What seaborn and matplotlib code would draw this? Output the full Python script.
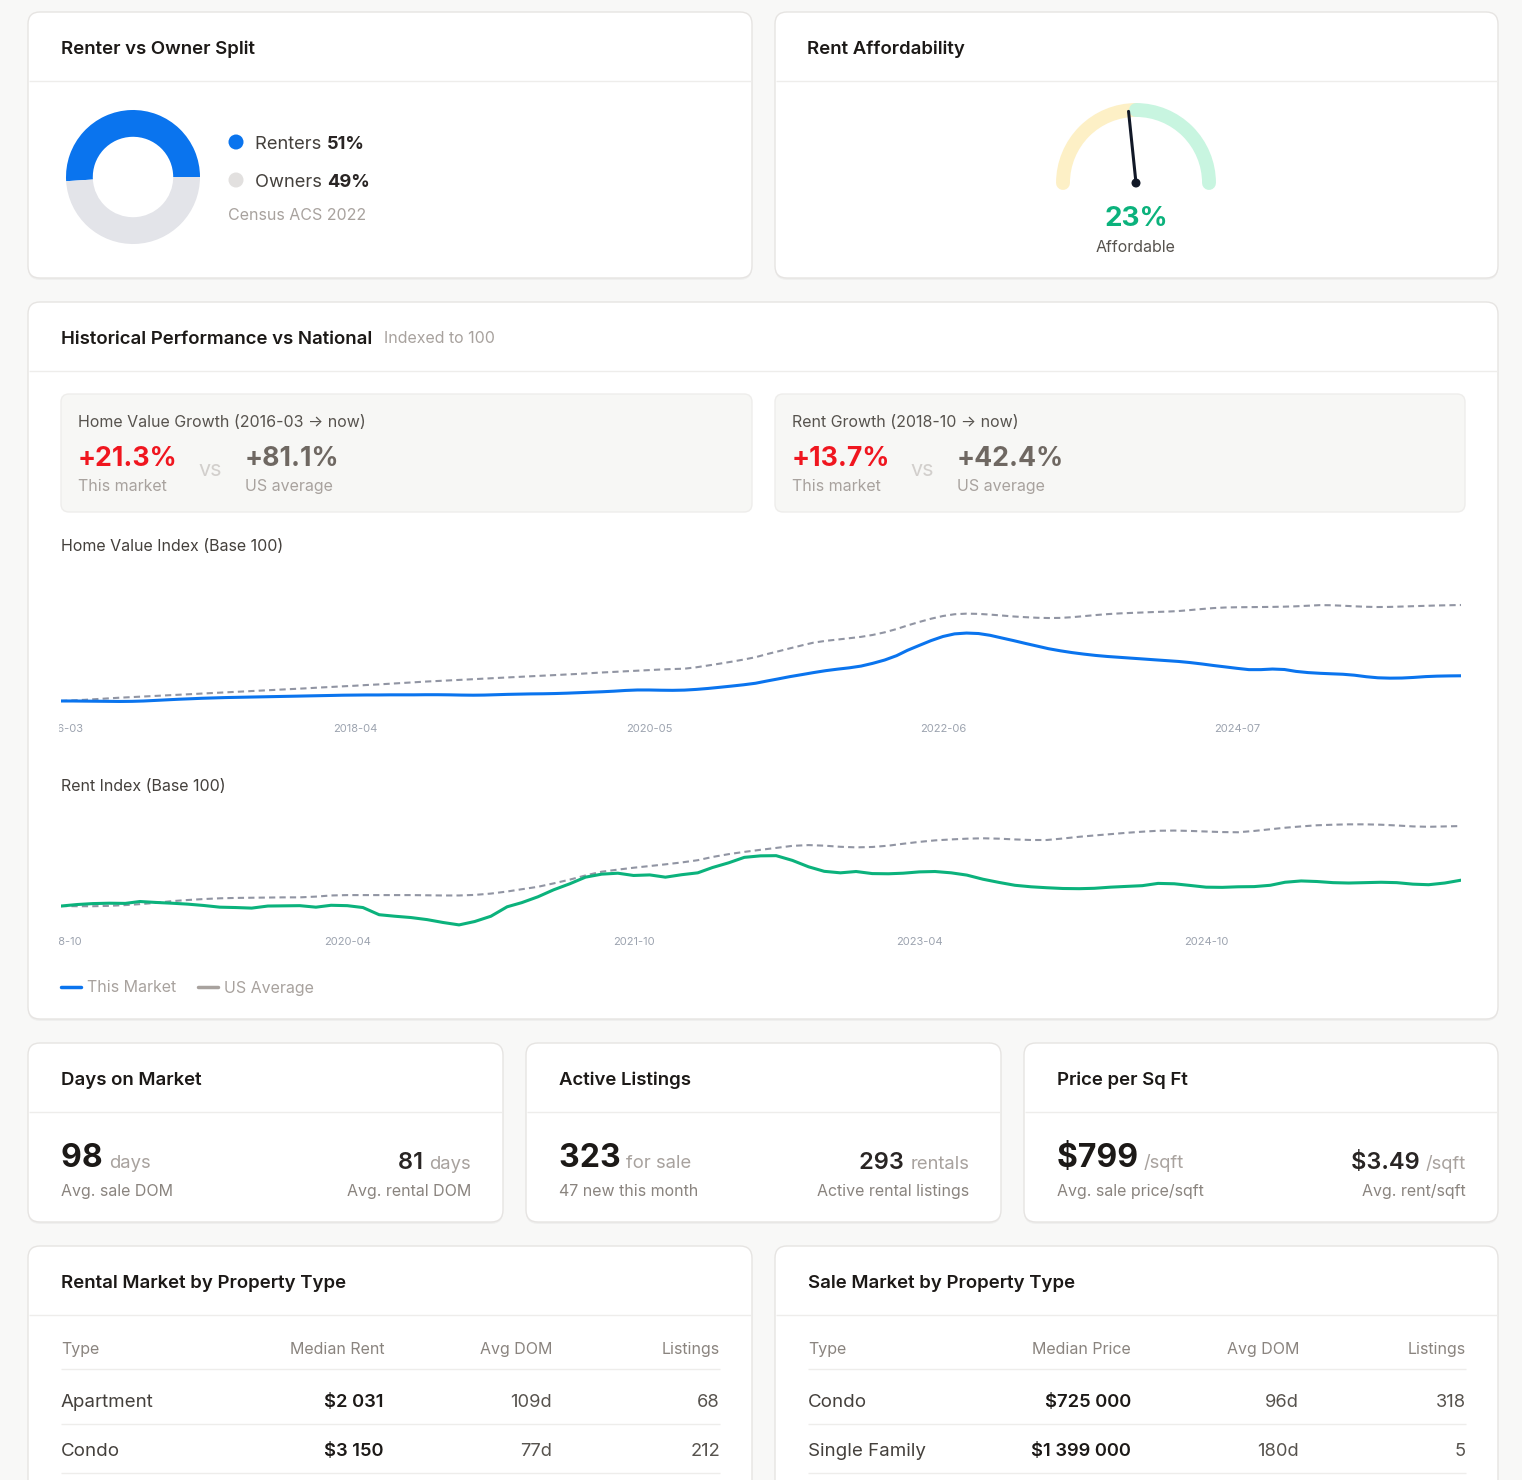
import numpy as np
import pandas as pd
import matplotlib
matplotlib.use("Agg")
import matplotlib.pyplot as plt
from matplotlib.patches import FancyBboxPatch, Arc, Circle
from matplotlib.lines import Line2D
from matplotlib.transforms import Bbox, TransformedBbox
import seaborn as sns

# ---- data ----
tenure_labels = ["Renters", "Owners"]
tenure_share = [51, 49]
tenure_source = "Census ACS 2022"

afford_pct = "23%"
afford_label = "Affordable"
afford_needle = 0.467  # needle position along the gauge, 0 = left end, 1 = right end

home_start = "2016-03"
home_ticks = ["2016-03", "2018-04", "2020-05", "2022-06", "2024-07"]
home_this = [
    100.0, 100.0, 99.9, 99.8, 99.7, 99.6, 99.7, 100.0, 100.5, 101.0,
    101.5, 101.9, 102.3, 102.6, 102.9, 103.1, 103.3, 103.5, 103.7, 103.9,
    104.1, 104.3, 104.5, 104.7, 104.9, 105.0, 105.1, 105.1, 105.2, 105.2,
    105.2, 105.3, 105.3, 105.2, 105.0, 104.9, 105.0, 105.3, 105.6, 105.8,
    106.0, 106.1, 106.3, 106.6, 107.0, 107.4, 107.8, 108.3, 108.9, 109.3,
    109.3, 109.1, 109.0, 109.2, 109.8, 110.6, 111.6, 112.6, 113.7, 115.0,
    116.8, 118.7, 120.6, 122.3, 124.0, 125.6, 126.9, 128.0, 129.5, 131.8,
    134.6, 138.3, 142.8, 147.0, 151.0, 154.5, 156.7, 157.4, 157.0, 155.5,
    153.2, 151.0, 148.6, 146.3, 144.2, 142.4, 140.9, 139.6, 138.5, 137.6,
    136.9, 136.2, 135.5, 134.8, 134.1, 133.4, 132.5, 131.3, 130.0, 128.8,
    127.6, 126.5, 126.5, 127.0, 126.6, 125.0, 124.0, 123.4, 123.0, 122.6,
    121.8, 120.5, 119.6, 119.3, 119.4, 119.9, 120.6, 121.0, 121.2, 121.3,
]
home_us = [
    100.0, 100.5, 101.0, 101.6, 102.2, 102.8, 103.3, 103.8, 104.3, 104.8,
    105.3, 105.8, 106.3, 106.8, 107.3, 107.8, 108.3, 108.8, 109.3, 109.8,
    110.3, 110.8, 111.4, 111.9, 112.4, 112.9, 113.5, 114.0, 114.6, 115.2,
    115.8, 116.4, 116.9, 117.4, 117.9, 118.4, 118.9, 119.4, 119.9, 120.4,
    120.9, 121.4, 121.9, 122.4, 122.9, 123.5, 124.1, 124.6, 125.1, 125.6,
    126.1, 126.6, 127.0, 127.3, 128.5, 130.0, 131.6, 133.2, 135.0, 137.0,
    139.5, 142.0, 144.5, 147.0, 149.3, 150.8, 151.9, 153.0, 154.2, 155.8,
    158.0, 160.8, 163.8, 166.8, 169.5, 171.8, 173.3, 173.8, 173.6, 173.0,
    172.2, 171.4, 170.8, 170.3, 170.1, 170.2, 170.8, 171.7, 172.6, 173.4,
    174.0, 174.4, 174.8, 175.2, 175.5, 176.0, 176.8, 177.7, 178.5, 179.0,
    179.2, 179.3, 179.4, 179.5, 179.7, 180.0, 180.5, 181.0, 180.9, 180.5,
    180.0, 179.6, 179.4, 179.5, 179.8, 180.1, 180.4, 180.7, 180.9, 181.1,
]
home_growth_this = "+21.3%"
home_growth_us = "+81.1%"

rent_start = "2018-10"
rent_ticks = ["2018-10", "2020-04", "2021-10", "2023-04", "2024-10"]
rent_this = [
    100.0, 100.8, 101.3, 101.5, 101.4, 102.4, 101.9, 101.5, 101.0, 100.3,
    99.4, 99.2, 98.9, 100.0, 100.1, 100.2, 99.4, 100.4, 100.2, 99.2,
    95.4, 94.6, 93.9, 92.8, 91.3, 90.0, 91.8, 94.6, 99.6, 101.8,
    104.9, 108.6, 111.8, 115.3, 116.9, 117.4, 116.2, 116.5, 115.3, 116.6,
    117.6, 120.4, 122.9, 125.8, 126.6, 126.7, 124.2, 120.8, 118.4, 117.6,
    118.3, 117.2, 117.1, 117.4, 118.1, 118.3, 117.6, 116.4, 114.2, 112.5,
    111.0, 110.2, 109.7, 109.3, 109.2, 109.4, 110.0, 110.4, 110.8, 112.0,
    111.8, 110.9, 110.0, 109.9, 110.2, 110.3, 111.0, 112.6, 113.3, 113.0,
    112.4, 112.2, 112.4, 112.6, 112.4, 111.6, 111.3, 112.2, 113.7,
]
rent_us = [
    100.0, 99.9, 99.9, 100.1, 100.5, 101.0, 101.7, 102.6, 103.2, 103.7,
    104.1, 104.3, 104.4, 104.5, 104.6, 104.6, 105.0, 105.6, 105.8, 105.8,
    105.8, 105.8, 105.8, 105.7, 105.6, 105.6, 105.9, 106.6, 107.7, 108.9,
    110.2, 112.0, 114.0, 116.2, 118.2, 119.3, 120.3, 121.2, 122.1, 123.1,
    124.3, 126.0, 127.5, 128.7, 129.8, 130.8, 131.9, 132.3, 132.0, 131.4,
    131.1, 131.3, 132.0, 133.0, 134.0, 134.8, 135.3, 135.7, 135.9, 135.7,
    135.3, 135.0, 135.0, 135.8, 136.7, 137.4, 138.1, 138.8, 139.4, 139.9,
    140.0, 139.8, 139.5, 139.2, 139.1, 139.8, 140.7, 141.5, 142.2, 142.8,
    143.1, 143.3, 143.3, 143.1, 142.7, 142.2, 142.0, 142.2, 142.4,
]
rent_growth_this = "+13.7%"
rent_growth_us = "+42.4%"

dom_sale, dom_rental = "98", "81"
listings_sale, listings_new, listings_rental = "323", "47", "293"
ppsf_sale, ppsf_rent = "$799", "$3.49"

rental_types = ["Apartment", "Condo"]
rental_median = ["$2 031", "$3 150"]
rental_dom = ["109d", "77d"]
rental_count = ["68", "212"]
sale_types = ["Condo", "Single Family"]
sale_median = ["$725 000", "$1 399 000"]
sale_dom = ["96d", "180d"]
sale_count = ["318", "5"]

# ---- style ----
W, H = 1522, 1480
PAGE = "#f8f8f7"
BLUE = "#0a74ee"
GREEN = "#0bb27c"
RED = "#f0161f"
US_GRAY = "#9195a3"
DARK = "#1c1917"
BODY = "#44403c"
MUTED = "#8a847f"
LIGHT = "#a8a29e"
LINE = "#eeedeb"
TITLE_SIZE = 13.4

sns.set_theme(style="white")
plt.rcParams["font.family"] = ["Inter", "DejaVu Sans"]

fig = plt.figure(figsize=(W / 100, H / 100), dpi=100)
fig.patch.set_facecolor(PAGE)
bg = fig.add_axes([0, 0, 1, 1])
bg.set_xlim(0, W)
bg.set_ylim(H, 0)
bg.axis("off")


def px_axes(x0, y0, x1, y1):
    return fig.add_axes([x0 / W, 1 - y1 / H, (x1 - x0) / W, (y1 - y0) / H])


def txt(x, y, s, size=12, color=BODY, weight="normal", ha="left"):
    # y is the visual centre of the capitals, text sits on its baseline
    return bg.text(x, y + 0.507 * size, s, fontsize=size, color=color,
                   fontweight=weight, ha=ha, va="baseline")


def hline(x0, x1, y, color=LINE):
    bg.plot([x0, x1], [y, y], color=color, lw=1, solid_capstyle="butt")


def card(x0, y0, x1, y1, title, tx):
    bg.add_patch(FancyBboxPatch((x0, y0 + 2), x1 - x0, y1 - y0,
                                boxstyle="round,pad=0,rounding_size=12",
                                fc="#000000", alpha=0.035, ec="none"))
    bg.add_patch(FancyBboxPatch((x0, y0), x1 - x0, y1 - y0,
                                boxstyle="round,pad=0,rounding_size=12",
                                fc="white", ec="#e6e4e2", lw=1))
    hline(x0 + 1, x1 - 1, y0 + 69)
    txt(tx, y0 + 35, title, size=TITLE_SIZE, color=DARK, weight="semibold")


# ---- row 1: renter split + affordability ----
card(28, 12, 752, 278, "Renter vs Owner Split", 61)
card(775, 12, 1498, 278, "Rent Affordability", 807)

dn = px_axes(66, 110, 200, 244)
dn.pie(tenure_share, colors=[BLUE, "#e3e4e9"], startangle=0, counterclock=True,
       radius=1, wedgeprops=dict(width=0.4, linewidth=0))
dn.set_xlim(-1, 1)
dn.set_ylim(-1, 1)
dn.set_aspect("equal")
dn.axis("off")

for i, (lab, share, col) in enumerate(zip(tenure_labels, tenure_share, [BLUE, "#e2e0df"])):
    yy = 142 + 38 * i
    bg.add_patch(Circle((236, yy), 7.5, color=col, lw=0))
    t = txt(255, yy, lab + " ", size=13.2, color=BODY)
    bg.annotate(f"{share}%", xy=(1, 0), xycoords=t, fontsize=13.2, color="#292524",
                fontweight="bold", va="bottom", ha="left")
txt(228, 214, tenure_source, size=11.5, color=LIGHT)

gx = px_axes(1036, 93, 1236, 213)
gx.set_xlim(-100, 100)
gx.set_ylim(-30, 90)
gx.axis("off")
gx.add_patch(Arc((0, 0), 146, 146, theta1=90, theta2=180, lw=10, color="#fdf0c6", capstyle="round"))
gx.add_patch(Arc((0, 0), 146, 146, theta1=0, theta2=90, lw=10, color="#c8f5e0", capstyle="round"))
ang = np.deg2rad(180 - afford_needle * 180)
gx.plot([0, 72 * np.cos(ang)], [0, 72 * np.sin(ang)], color="#111827", lw=2.2,
        solid_capstyle="round")
gx.add_patch(Circle((0, 0), 3.8, color="#111827"))
txt(1136, 216, afford_pct, size=20, color=GREEN, weight="bold", ha="center")
txt(1136, 246, afford_label, size=11.5, color="#57534e", ha="center")

# ---- row 2: historical performance ----
card(28, 302, 1498, 1019, "Historical Performance vs National", 61)
txt(384, 337, "Indexed to 100", size=11.5, color=LIGHT)

for x0, x1, head, this_g, us_g, vs_x in [
        (61, 752, "Home Value Growth (2016-03 \u2192 now)", home_growth_this, home_growth_us, 198),
        (775, 1465, "Rent Growth (2018-10 \u2192 now)", rent_growth_this, rent_growth_us, 910)]:
    bg.add_patch(FancyBboxPatch((x0, 394), x1 - x0, 118, boxstyle="round,pad=0,rounding_size=8",
                                fc="#f7f7f5", ec="#eeedeb", lw=1))
    txt(x0 + 17, 421, head, size=11.5, color="#57534e")
    txt(x0 + 17, 456, this_g, size=19.2, color=RED, weight="bold")
    txt(vs_x, 468, "vs", size=15.5, color="#d2cfcc")
    txt(vs_x + 47, 456, us_g, size=19.2, color="#6f6862", weight="bold")
    txt(x0 + 17, 485, "This market", size=11.5, color=LIGHT)
    txt(vs_x + 47, 485, "US average", size=11.5, color=LIGHT)

txt(61, 545, "Home Value Index (Base 100)", size=11.5, color=BODY)
txt(61, 785, "Rent Index (Base 100)", size=11.5, color=BODY)

label_clip = TransformedBbox(Bbox.from_extents(59 / W, 0, 1, 1), fig.transFigure)


def index_chart(box, start, this_vals, us_vals, ticks, color, ylim, pad):
    dates = pd.date_range(start, periods=len(this_vals), freq="MS")
    ax = px_axes(*box)
    sns.lineplot(x=dates, y=us_vals, ax=ax, color=US_GRAY, lw=1.5, linestyle=(0, (3, 2)))
    sns.lineplot(x=dates, y=this_vals, ax=ax, color=color, lw=2.2)
    ax.set_xlim(dates[0], dates[-1])
    ax.set_ylim(*ylim)
    ax.set_xticks(pd.to_datetime(ticks))
    ax.set_xticklabels(ticks)
    ax.set_yticks([])
    ax.set_xlabel("")
    ax.set_ylabel("")
    ax.tick_params(axis="x", length=0, pad=pad, labelsize=8, labelcolor="#9ca3af")
    sns.despine(ax=ax, left=True, bottom=True)
    ax.patch.set_alpha(0)
    for lab in ax.get_xticklabels():
        lab.set_clip_on(True)
        lab.set_clip_box(label_clip)
    return ax


index_chart((61, 565, 1461, 712), home_start, home_this, home_us, home_ticks, BLUE, (90.7, 214.9), 9)
index_chart((61, 800, 1461, 930), rent_start, rent_this, rent_us, rent_ticks, GREEN, (87.3, 156.2), 5)

handles = [Line2D([], [], color=BLUE, lw=2.5), Line2D([], [], color=LIGHT, lw=2.5)]
fig.legend(handles, ["This Market", "US Average"], loc="center left",
           bbox_to_anchor=(61 / W, 1 - 988 / H), ncol=2, frameon=False, fontsize=11.5,
           handlelength=1.25, handletextpad=0.4, columnspacing=1.35, borderpad=0,
           borderaxespad=0, labelcolor=LIGHT)

# ---- row 3: stat cards ----
stat_cards = [
    (28, 503, "Days on Market", dom_sale, "days", "Avg. sale DOM", dom_rental, "days", "Avg. rental DOM"),
    (526, 1001, "Active Listings", listings_sale, "for sale", f"{listings_new} new this month",
     listings_rental, "rentals", "Active rental listings"),
    (1024, 1498, "Price per Sq Ft", ppsf_sale, "/sqft", "Avg. sale price/sqft", ppsf_rent, "/sqft", "Avg. rent/sqft"),
]
for x0, x1, title, big, big_unit, big_sub, small, small_unit, small_sub in stat_cards:
    card(x0, 1043, x1, 1222, title, x0 + 33)
    t = txt(x0 + 33, 1155, big + " ", size=23, color=DARK, weight="bold")
    bg.annotate(big_unit, xy=(0.97, 0.17), xycoords=t, fontsize=13.3, color=LIGHT,
                va="baseline", ha="left")
    txt(x0 + 33, 1190, big_sub, size=11.5, color=MUTED)
    u = txt(x1 - 32, 1162, small_unit, size=13.3, color=LIGHT, ha="right")
    bg.annotate(small + " ", xy=(0, 0.22), xycoords=u, fontsize=17, color="#292524",
                fontweight="semibold", va="baseline", ha="right")
    txt(x1 - 32, 1190, small_sub, size=11.5, color=MUTED, ha="right")

# ---- row 4: tables ----
tables = [
    (28, 752, "Rental Market by Property Type", "Median Rent",
     rental_types, rental_median, rental_dom, rental_count),
    (775, 1498, "Sale Market by Property Type", "Median Price",
     sale_types, sale_median, sale_dom, sale_count),
]
for x0, x1, title, price_head, types, medians, doms, counts in tables:
    card(x0, 1246, x1, 1510, title, x0 + 33)
    left = x0 + 33
    right = x1 - 32
    c_price = left + 323
    c_dom = left + 491
    txt(left, 1348, "Type", size=11.5, color=MUTED)
    txt(c_price, 1348, price_head, size=11.5, color=MUTED, ha="right")
    txt(c_dom, 1348, "Avg DOM", size=11.5, color=MUTED, ha="right")
    txt(right, 1348, "Listings", size=11.5, color=MUTED, ha="right")
    hline(left, right, 1369)
    for i, (tp, md, dm, ct) in enumerate(zip(types, medians, doms, counts)):
        yy = 1400 + 49 * i
        txt(left, yy, tp, size=13.5, color=BODY)
        txt(c_price, yy, md, size=13.2, color=DARK, weight="semibold", ha="right")
        txt(c_dom, yy, dm, size=13.2, color="#57534e", ha="right")
        txt(right, yy, ct, size=13.2, color="#57534e", ha="right")
        hline(left, right, yy + 24)

fig.savefig("out.png", dpi=100, facecolor=PAGE)
